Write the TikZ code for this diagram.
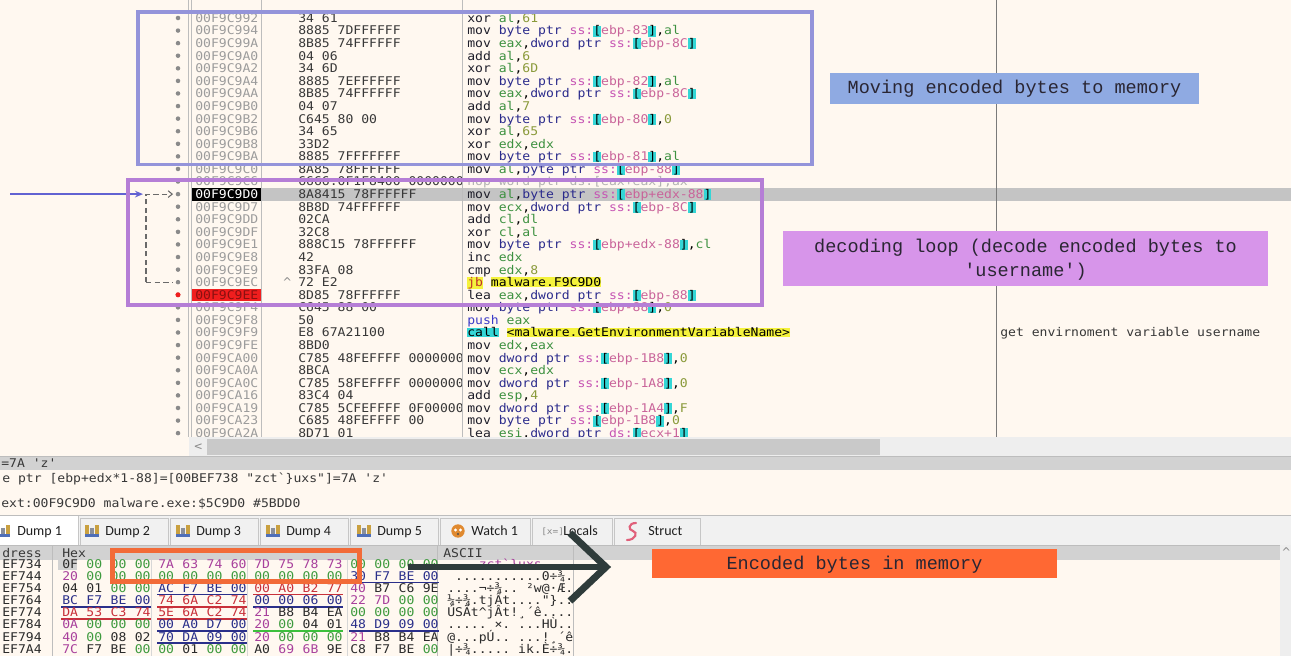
\documentclass[tikz,border=0pt]{standalone}
\usepackage{fontspec}
\setmonofont[FakeStretch=1.09]{DejaVu Sans Mono}
\newfontfamily\labfont[Ligatures=TeXOff]{Liberation Mono}
\newfontfamily\tabfont{Carlito}
\usetikzlibrary{arrows.meta}

\definecolor{bg}{HTML}{FFF8F0}
\definecolor{sepc}{HTML}{BDBDBD}
\definecolor{sepdark}{HTML}{7A7A7A}
\definecolor{dotc}{HTML}{8A8A8A}
\definecolor{addrc}{HTML}{9C9C9C}
\definecolor{bytec}{HTML}{383838}
\definecolor{mnc}{HTML}{1E1E2A}
\definecolor{regc}{HTML}{3D9140}
\definecolor{szc}{HTML}{2B2B8C}
\definecolor{segc}{HTML}{C654B4}
\definecolor{memc}{HTML}{C9649A}
\definecolor{numc}{HTML}{8A9A3A}
\definecolor{brc}{HTML}{34D6D6}
\definecolor{yel}{HTML}{F4F23C}
\definecolor{jbc}{HTML}{C0302A}
\definecolor{callbg}{HTML}{34D6D6}
\definecolor{pushc}{HTML}{3D3DC8}
\definecolor{nopc}{HTML}{B2B2B2}
\definecolor{hlband}{HTML}{C4C4C4}
\definecolor{bpaddr}{HTML}{8A1010}
\definecolor{bpred}{HTML}{F01E1E}
\definecolor{blueBox}{HTML}{9494DA}
\definecolor{purpBox}{HTML}{B57ED6}
\definecolor{blueArr}{HTML}{6262D2}
\definecolor{dashc}{HTML}{6A6A6A}
\definecolor{labBlue}{HTML}{8FAAE2}
\definecolor{labPurp}{HTML}{D795EA}
\definecolor{labOrange}{HTML}{FF6833}
\definecolor{orangeRect}{HTML}{F26B38}
\definecolor{arrowDark}{HTML}{2F3C3B}
\definecolor{labtext}{HTML}{2A2633}
\definecolor{hgreen}{HTML}{3E9A3E}
\definecolor{hpurple}{HTML}{A8409C}
\definecolor{hdark}{HTML}{2A2A2A}
\definecolor{ulblue}{HTML}{2A2F8A}
\definecolor{ulred}{HTML}{C8303A}
\definecolor{ulgreen}{HTML}{3CC03C}
\definecolor{hdr}{HTML}{D2D2D2}
\definecolor{tabbg}{HTML}{F1F1F1}
\definecolor{tabline}{HTML}{C6C6C6}
\definecolor{tabtext}{HTML}{202020}
\definecolor{sbtrack}{HTML}{EEEEEE}
\definecolor{sbthumb}{HTML}{C9C9C9}
\definecolor{icgold}{HTML}{C9A040}
\definecolor{icgrey}{HTML}{8A8F9A}
\definecolor{icblue}{HTML}{4F6FB8}
\definecolor{icorange}{HTML}{E08A30}
\definecolor{icpink}{HTML}{E0607A}

% syntax colouring of the disassembly
\newcommand\aMn[1]{\textcolor{mnc}{#1}}
\newcommand\aRg[1]{\textcolor{regc}{#1}}
\newcommand\aSz[1]{\textcolor{szc}{#1}}
\newcommand\aSg[1]{\textcolor{segc}{#1}}
\newcommand\aNm[1]{\textcolor{numc}{#1}}
\newcommand\aHl[2]{{\fboxsep=0pt\colorbox{#1}{#2}}}
\newcommand\aMem[1]{\aHl{brc}{[}\textcolor{memc}{#1}\aHl{brc}{]}}

% one disassembly line: [address colour]{row}{address}{bytes}{instruction}
\newcommand\DRow[5][addrc]{%
  \pgfmathsetmacro\ry{18+(#2-1)*12.58}%
  \pgfmathsetmacro\rb{\ry+4.4}%
  \fill[dotc] (178,\ry) circle[radius=1.7pt];
  \node[dis,text=#1] (ad#2) at (195,\rb) {#3};
  \begin{scope}
    \clip (262,0) rectangle (461,437);
    \node[dis,text=bytec] (by#2) at (298,\rb) {#4};
  \end{scope}
  \node[dis] (in#2) at (467,\rb) {#5};
}

% dump rows
\def\hexTop{564}
\def\hexPitch{12.1}

% one group of four bytes in the dump: {row}{group}{bytes}{underline}{text colour}
\def\hgAuto{auto}\def\hgNone{none}
\newcommand\HexGrp[5]{%
  \pgfmathsetmacro\hy{\hexTop+(#1-1)*\hexPitch}%
  \pgfmathsetmacro\hb{\hy+4.4}%
  \pgfmathsetmacro\gx{62+#2*96}%
  \def\hgTc{#5}%
  \foreach \bb [count=\bi from 0] in {#3}{%
    \pgfmathsetmacro\bx{\gx+\bi*24.2}%
    \ifx\hgTc\hgAuto
      \ifnum"\bb=0 \def\hc{hgreen}\else
        \ifnum"\bb>"1F\relax
          \ifnum"\bb<"7F\relax \def\hc{hpurple}\else\def\hc{hdark}\fi
        \else
          \ifnum"\bb="0A\relax \def\hc{hpurple}\else\def\hc{hdark}\fi
        \fi
      \fi
    \else \let\hc\hgTc \fi
    \node[dis,text=\hc] (hx-#1-#2-\bi) at (\bx,\hb) {\bb};
  }%
  \def\hgUl{#4}%
  \ifx\hgUl\hgNone\else
    \draw[#4,line width=1.1pt] (\gx-1,\hy+6.5) -- (\gx+89,\hy+6.5);
  \fi
}

\newcommand\DumpIcon[1]{%
  \fill[icgold] (#1-8,525) rectangle (#1-4,537);
  \fill[icgrey] (#1-3,528) rectangle (#1+1,537);
  \fill[icgold] (#1+2,525) rectangle (#1+6,537);
  \fill[icblue] (#1-8,534) rectangle (#1+6,537);
}

\begin{document}
\begin{tikzpicture}[x=0.75pt,y=-0.75pt,
  dis/.style={font=\ttfamily\fontsize{9}{10}\selectfont,inner sep=0pt,anchor=base west},
  lab/.style={font=\labfont\fontsize{13.9}{16}\selectfont,text=labtext,inner sep=0pt,anchor=base},
  tabt/.style={font=\tabfont\fontsize{10.5}{12}\selectfont,text=tabtext,inner sep=0pt,anchor=base west},
  tabbox/.style={draw=tabline,fill=tabbg,line width=0.6pt},
]
\useasboundingbox (0,0) rectangle (1291,656);
\clip (0,0) rectangle (1291,656);
\fill[bg] (0,0) rectangle (1291,656);

% ---------- disassembly view ----------
\fill[hlband] (262,188) rectangle (1291,200.5);
\fill[black] (191,188) rectangle (261,200.5);
\fill[bpred] (191,288.6) rectangle (261,301);

\draw[sepc,line width=0.6pt] (188.5,0) -- (188.5,437);
\draw[sepc,line width=0.6pt] (191,0) -- (191,437);
\draw[sepc,line width=0.6pt] (261.5,0) -- (261.5,437);
\draw[sepc,line width=0.6pt] (462,0) -- (462,437);
\draw[sepdark,line width=0.7pt] (996,0) -- (996,437);

\DRow{1}{00F9C992}{34 61}{\aMn{xor} \aRg{al},\aNm{61}}
\DRow{2}{00F9C994}{8885 7DFFFFFF}{\aMn{mov} \aSz{byte ptr} \aSg{ss:}\aMem{ebp-83},\aRg{al}}
\DRow{3}{00F9C99A}{8B85 74FFFFFF}{\aMn{mov} \aRg{eax},\aSz{dword ptr} \aSg{ss:}\aMem{ebp-8C}}
\DRow{4}{00F9C9A0}{04 06}{\aMn{add} \aRg{al},\aNm{6}}
\DRow{5}{00F9C9A2}{34 6D}{\aMn{xor} \aRg{al},\aNm{6D}}
\DRow{6}{00F9C9A4}{8885 7EFFFFFF}{\aMn{mov} \aSz{byte ptr} \aSg{ss:}\aMem{ebp-82},\aRg{al}}
\DRow{7}{00F9C9AA}{8B85 74FFFFFF}{\aMn{mov} \aRg{eax},\aSz{dword ptr} \aSg{ss:}\aMem{ebp-8C}}
\DRow{8}{00F9C9B0}{04 07}{\aMn{add} \aRg{al},\aNm{7}}
\DRow{9}{00F9C9B2}{C645 80 00}{\aMn{mov} \aSz{byte ptr} \aSg{ss:}\aMem{ebp-80},\aNm{0}}
\DRow{10}{00F9C9B6}{34 65}{\aMn{xor} \aRg{al},\aNm{65}}
\DRow{11}{00F9C9B8}{33D2}{\aMn{xor} \aRg{edx},\aRg{edx}}
\DRow{12}{00F9C9BA}{8885 7FFFFFFF}{\aMn{mov} \aSz{byte ptr} \aSg{ss:}\aMem{ebp-81},\aRg{al}}
\DRow{13}{00F9C9C0}{8A85 78FFFFFF}{\aMn{mov} \aRg{al},\aSz{byte ptr} \aSg{ss:}\aMem{ebp-88}}
\DRow{14}{00F9C9C6}{6666:0F1F8400 00000000}{\textcolor{nopc}{nop word ptr ds:[eax+eax],ax}}
\DRow[white]{15}{00F9C9D0}{8A8415 78FFFFFF}{\aMn{mov} \aRg{al},\aSz{byte ptr} \aSg{ss:}\aMem{ebp+edx-88}}
\DRow{16}{00F9C9D7}{8B8D 74FFFFFF}{\aMn{mov} \aRg{ecx},\aSz{dword ptr} \aSg{ss:}\aMem{ebp-8C}}
\DRow{17}{00F9C9DD}{02CA}{\aMn{add} \aRg{cl},\aRg{dl}}
\DRow{18}{00F9C9DF}{32C8}{\aMn{xor} \aRg{cl},\aRg{al}}
\DRow{19}{00F9C9E1}{888C15 78FFFFFF}{\aMn{mov} \aSz{byte ptr} \aSg{ss:}\aMem{ebp+edx-88},\aRg{cl}}
\DRow{20}{00F9C9E8}{42}{\aMn{inc} \aRg{edx}}
\DRow{21}{00F9C9E9}{83FA 08}{\aMn{cmp} \aRg{edx},\aNm{8}}
\DRow{22}{00F9C9EC}{72 E2}{\aHl{yel}{\textcolor{jbc}{jb}} \aHl{yel}{malware.F9C9D0}}
\DRow[bpaddr]{23}{00F9C9EE}{8D85 78FFFFFF}{\aMn{lea} \aRg{eax},\aSz{dword ptr} \aSg{ss:}\aMem{ebp-88}}
\DRow{24}{00F9C9F4}{C645 88 00}{\aMn{mov} \aSz{byte ptr} \aSg{ss:}\aMem{ebp-88},\aNm{0}}
\DRow{25}{00F9C9F8}{50}{\textcolor{pushc}{push} \aRg{eax}}
\DRow{26}{00F9C9F9}{E8 67A21100}{\aHl{callbg}{call} \aHl{yel}{<malware.GetEnvironmentVariableName>}}
\DRow{27}{00F9C9FE}{8BD0}{\aMn{mov} \aRg{edx},\aRg{eax}}
\DRow{28}{00F9CA00}{C785 48FEFFFF 00000000}{\aMn{mov} \aSz{dword ptr} \aSg{ss:}\aMem{ebp-1B8},\aNm{0}}
\DRow{29}{00F9CA0A}{8BCA}{\aMn{mov} \aRg{ecx},\aRg{edx}}
\DRow{30}{00F9CA0C}{C785 58FEFFFF 00000000}{\aMn{mov} \aSz{dword ptr} \aSg{ss:}\aMem{ebp-1A8},\aNm{0}}
\DRow{31}{00F9CA16}{83C4 04}{\aMn{add} \aRg{esp},\aNm{4}}
\DRow{32}{00F9CA19}{C785 5CFEFFFF 0F000000}{\aMn{mov} \aSz{dword ptr} \aSg{ss:}\aMem{ebp-1A4},\aNm{F}}
\DRow{33}{00F9CA23}{C685 48FEFFFF 00}{\aMn{mov} \aSz{byte ptr} \aSg{ss:}\aMem{ebp-1B8},\aNm{0}}
\DRow{34}{00F9CA2A}{8D71 01}{\aMn{lea} \aRg{esi},\aSz{dword ptr} \aSg{ds:}\aMem{ecx+1}}

\fill[bpred] (178,294.8) circle[radius=1.9pt];
\node[dis,text=dotc] (caret) at (283,286.6) {\textasciicircum};
\node[dis,text=bytec] (cmt) at (1000,336.9) {get envirnoment variable username};

% branch arrows
\coordinate (jin) at (10,194.1);
\coordinate (jtop) at (143,194.1);
\coordinate (ltop) at (146,194.1);
\coordinate (lbot) at (146,282.2);
\coordinate (dot15) at (173,194.1);
\coordinate (dot22) at (173,282.2);
\draw[blueArr,line width=1.1pt,-{Stealth[length=6pt,width=5pt]}] (jin) -- (jtop);
\draw[dashc,line width=0.8pt,dash pattern=on 4pt off 2.5pt,-{Straight Barb[length=3pt,width=5pt]}] (lbot) -- (ltop) -- (dot15);
\draw[dashc,line width=0.8pt,dash pattern=on 4pt off 2.5pt] (lbot) -- (dot22);

% horizontal scroll bar
\fill[sbtrack] (189,437) rectangle (1291,456);
\fill[sbthumb] (207,438.5) rectangle (880,454.5);
\node[dis,text=dotc] (sbl) at (194,450) {<};

% ---------- info lines ----------
\fill[hdr] (0,456) rectangle (1291,470);
\draw[sepc,line width=0.6pt] (0,456) -- (1291,456);
\node[dis,text=bytec] (inf1) at (1,467.4) {=7A 'z'};
\node[dis,text=bytec] (inf2) at (2,482.4) {e ptr [ebp+edx*1-88]=[00BEF738 "zct`\}uxs"]=7A 'z'};
\node[dis,text=bytec] (inf3) at (1,507.4) {ext:00F9C9D0 malware.exe:\$5C9D0 \#5BDD0};

% ---------- tab bar ----------
\fill[tabbg] (0,515) rectangle (1291,545);
\draw[sepc,line width=0.6pt] (0,515.5) -- (1291,515.5);
\foreach \xa/\xb in {80/168,170/258,260/348,350/438,440/530,532/612,614/700}
  \draw[tabbox] (\xa,545) -- (\xa,518) -- (\xb,518) -- (\xb,545);
\fill[white] (-2,516) rectangle (78,545.5);
\draw[tabline,line width=0.6pt] (78,545) -- (78,516);
\DumpIcon{4}
\DumpIcon{93}
\DumpIcon{184}
\DumpIcon{274}
\DumpIcon{365}
\node[tabt] (tab1) at (17,535.5) {Dump 1};
\node[tabt] (tab2) at (105,535.5) {Dump 2};
\node[tabt] (tab3) at (196,535.5) {Dump 3};
\node[tabt] (tab4) at (286,535.5) {Dump 4};
\node[tabt] (tab5) at (377,535.5) {Dump 5};
\fill[icorange] (458,531) circle[radius=5pt];
\fill[white] (455.5,530) circle[radius=1.2pt];
\fill[white] (460.5,530) circle[radius=1.2pt];
\fill[black!70] (458,534) circle[radius=0.9pt];
\node[tabt] (tab6) at (471,535.5) {Watch 1};
\node[font=\ttfamily\fontsize{6.5}{7}\selectfont,text=dotc,inner sep=0pt,anchor=base west] (locx) at (541,534.5) {[x=]};
\node[tabt] (tab7) at (563,535.5) {Locals};
\draw[icpink,line width=1.6pt,line cap=round] (636,523) .. controls (628,523) and (628,530) .. (633,531) .. controls (638,532) and (636,540) .. (627,540);
\node[tabt] (tab8) at (648,535.5) {Struct};

% ---------- hex dump ----------
\fill[hdr] (0,545) rectangle (1280,560);
\draw[sepc,line width=0.6pt] (0,545) -- (1280,545);
\fill[sbtrack] (1280,545) rectangle (1291,656);
\node[dis,text=dotc] (sbu) at (1282,556) {\textasciicircum};
\foreach \xs in {52,437,573}
  \draw[sepc,line width=0.6pt] (\xs,545) -- (\xs,656);
\foreach \xs in {151,247,347}
  \draw[sepc!60,line width=0.5pt] (\xs,560) -- (\xs,656);
\node[dis,text=bytec] (hA) at (2,557) {dress};
\node[dis,text=bytec] (hH) at (62,557) {Hex};
\node[dis,text=bytec] (hS) at (443,557) {ASCII};

\fill[hdr] (58,558) rectangle (77,570);

\foreach \r/\ad in {1/EF734,2/EF744,3/EF754,4/EF764,5/EF774,6/EF784,7/EF794,8/EF7A4}{
  \pgfmathsetmacro\ay{\hexTop+(\r-1)*\hexPitch+4.4}
  \node[dis,text=hdark] (ha\r) at (2,\ay) {\ad};
}

\HexGrp{1}{0}{0F,00,00,00}{none}{auto}
\HexGrp{1}{1}{7A,63,74,60}{none}{auto}
\HexGrp{1}{2}{7D,75,78,73}{none}{auto}
\HexGrp{1}{3}{00,00,00,00}{none}{auto}
\HexGrp{2}{0}{20,00,00,00}{none}{auto}
\HexGrp{2}{1}{00,00,00,00}{none}{auto}
\HexGrp{2}{2}{00,00,00,00}{none}{auto}
\HexGrp{2}{3}{30,F7,BE,00}{ulblue}{ulblue}
\HexGrp{3}{0}{04,01,00,00}{none}{auto}
\HexGrp{3}{1}{AC,F7,BE,00}{ulblue}{ulblue}
\HexGrp{3}{2}{00,A0,B2,77}{ulred}{ulred}
\HexGrp{3}{3}{40,B7,C6,9E}{none}{auto}
\HexGrp{4}{0}{BC,F7,BE,00}{ulblue}{ulblue}
\HexGrp{4}{1}{74,6A,C2,74}{ulred}{ulred}
\HexGrp{4}{2}{00,00,06,00}{ulblue}{ulblue}
\HexGrp{4}{3}{22,7D,00,00}{none}{auto}
\HexGrp{5}{0}{DA,53,C3,74}{ulred}{ulred}
\HexGrp{5}{1}{5E,6A,C2,74}{ulred}{ulred}
\HexGrp{5}{2}{21,B8,B4,EA}{none}{auto}
\HexGrp{5}{3}{00,00,00,00}{none}{auto}
\HexGrp{6}{0}{0A,00,00,00}{none}{auto}
\HexGrp{6}{1}{00,A0,D7,00}{ulblue}{ulblue}
\HexGrp{6}{2}{20,00,04,01}{ulgreen}{auto}
\HexGrp{6}{3}{48,D9,09,00}{ulblue}{ulblue}
\HexGrp{7}{0}{40,00,08,02}{none}{auto}
\HexGrp{7}{1}{70,DA,09,00}{ulblue}{ulblue}
\HexGrp{7}{2}{20,00,00,00}{none}{auto}
\HexGrp{7}{3}{21,B8,B4,EA}{none}{auto}
\HexGrp{8}{0}{7C,F7,BE,00}{none}{auto}
\HexGrp{8}{1}{00,01,00,00}{none}{auto}
\HexGrp{8}{2}{A0,69,6B,9E}{none}{auto}
\HexGrp{8}{3}{C8,F7,BE,00}{none}{auto}

\foreach \r/\txt/\tc in {
  1/{....zct`\}uxs....}/hpurple,
  2/{\ ...........0÷¾.}/hdark,
  3/{....¬÷¾.. ²w@·Æ.}/hdark,
  4/{¼÷¾.tjÂt...."\}..}/hdark,
  5/{ÚSÃt\textasciicircum jÂt!¸´ê....}/hdark,
  6/{..... ×. ...HÙ..}/hdark,
  7/{@...pÚ.. ...!¸´ê}/hdark,
  8/{|÷¾..... ik.È÷¾.}/hdark}{
  \pgfmathsetmacro\ay{\hexTop+(\r-1)*\hexPitch+4.4}
  \node[dis,text=\tc] (asc\r) at (447,\ay) {\txt};
}

% ---------- annotations ----------
\draw[blueBox,line width=2.3pt] (138,12) rectangle (812,164.5);
\draw[purpBox,line width=2.3pt] (128,180) rectangle (762,305);

\fill[labBlue] (830,73) rectangle (1199,104);
\node[lab] (lmove) at (1014.5,94) {Moving encoded bytes to memory};

\fill[labPurp] (783,231) rectangle (1268,286);
\node[lab] (ldec1) at (1025.5,252.5) {decoding loop (decode encoded bytes to};
\node[lab] (ldec2) at (1025.5,276.5) {'username')};

\draw[orangeRect,line width=3.75pt] (112.5,550.5) rectangle (359.5,581.5);

\coordinate (arS) at (408,567);
\coordinate (arT) at (606,567);
\draw[arrowDark,line width=5.2pt] (arS) -- ([xshift=-3]arT);
\draw[arrowDark,line width=5.2pt,miter limit=10] (arT) ++(-36,-34) -- (arT) -- ++(-36,34);

\fill[labOrange] (652,549) rectangle (1057,578);
\node[lab] (lenc) at (854.5,569) {Encoded bytes in memory};
\end{tikzpicture}
\end{document}
